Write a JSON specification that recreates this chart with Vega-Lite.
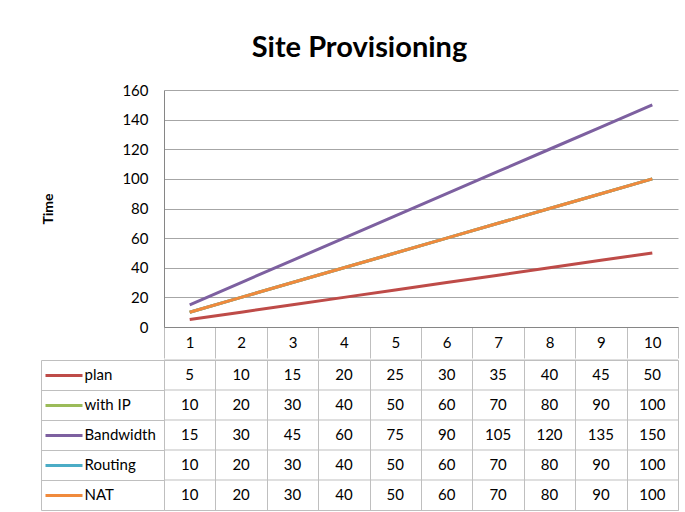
{
  "$schema": "https://vega.github.io/schema/vega-lite/v6.json",
  "padding": {"left": 40, "top": 34, "right": 5, "bottom": 0},
  "background": "white",
  "title": {"text": "Site Provisioning", "fontSize": 29, "font": "Lato", "fontWeight": "bold", "color": "#000000", "anchor": "middle", "frame": "bounds", "offset": 20},
  "config": {"view": {"stroke": null}, "font": "Lato"},
  "spacing": 0,
  "datasets": {
    "main": [
      {"series": "plan", "step": 1, "value": 5}, {"series": "plan", "step": 2, "value": 10}, {"series": "plan", "step": 3, "value": 15}, {"series": "plan", "step": 4, "value": 20}, {"series": "plan", "step": 5, "value": 25},
      {"series": "plan", "step": 6, "value": 30}, {"series": "plan", "step": 7, "value": 35}, {"series": "plan", "step": 8, "value": 40}, {"series": "plan", "step": 9, "value": 45}, {"series": "plan", "step": 10, "value": 50},
      {"series": "with IP", "step": 1, "value": 10}, {"series": "with IP", "step": 2, "value": 20}, {"series": "with IP", "step": 3, "value": 30}, {"series": "with IP", "step": 4, "value": 40}, {"series": "with IP", "step": 5, "value": 50},
      {"series": "with IP", "step": 6, "value": 60}, {"series": "with IP", "step": 7, "value": 70}, {"series": "with IP", "step": 8, "value": 80}, {"series": "with IP", "step": 9, "value": 90}, {"series": "with IP", "step": 10, "value": 100},
      {"series": "Bandwidth", "step": 1, "value": 15}, {"series": "Bandwidth", "step": 2, "value": 30}, {"series": "Bandwidth", "step": 3, "value": 45}, {"series": "Bandwidth", "step": 4, "value": 60}, {"series": "Bandwidth", "step": 5, "value": 75},
      {"series": "Bandwidth", "step": 6, "value": 90}, {"series": "Bandwidth", "step": 7, "value": 105}, {"series": "Bandwidth", "step": 8, "value": 120}, {"series": "Bandwidth", "step": 9, "value": 135}, {"series": "Bandwidth", "step": 10, "value": 150},
      {"series": "Routing", "step": 1, "value": 10}, {"series": "Routing", "step": 2, "value": 20}, {"series": "Routing", "step": 3, "value": 30}, {"series": "Routing", "step": 4, "value": 40}, {"series": "Routing", "step": 5, "value": 50},
      {"series": "Routing", "step": 6, "value": 60}, {"series": "Routing", "step": 7, "value": 70}, {"series": "Routing", "step": 8, "value": 80}, {"series": "Routing", "step": 9, "value": 90}, {"series": "Routing", "step": 10, "value": 100},
      {"series": "NAT", "step": 1, "value": 10}, {"series": "NAT", "step": 2, "value": 20}, {"series": "NAT", "step": 3, "value": 30}, {"series": "NAT", "step": 4, "value": 40}, {"series": "NAT", "step": 5, "value": 50},
      {"series": "NAT", "step": 6, "value": 60}, {"series": "NAT", "step": 7, "value": 70}, {"series": "NAT", "step": 8, "value": 80}, {"series": "NAT", "step": 9, "value": 90}, {"series": "NAT", "step": 10, "value": 100}
    ],
    "rows": [
      {"series": "plan"}, {"series": "with IP"}, {"series": "Bandwidth"}, {"series": "Routing"}, {"series": "NAT"}
    ]
  },
  "vconcat": [
    {
      "width": 514,
      "height": 237,
      "data": {"name": "main"},
      "mark": {"type": "line", "strokeWidth": 3},
      "encoding": {
        "x": {
          "field": "step", "type": "ordinal",
          "scale": {"type": "band", "paddingInner": 0, "paddingOuter": 0},
          "axis": {"title": null, "labelAngle": 0, "domainColor": "#868686", "tickColor": "#BFBFBF", "tickBand": "extent", "tickSize": 31, "labelPadding": -16, "labelBaseline": "middle", "labelFontSize": 15, "labelColor": "#000000", "grid": false}
        },
        "y": {
          "field": "value", "type": "quantitative",
          "scale": {"domain": [0, 160]},
          "axis": {"values": [0, 20, 40, 60, 80, 100, 120, 140, 160], "title": "Time", "titleFontSize": 14, "titleFontWeight": "bold", "titleColor": "#000000", "titlePadding": 66, "ticks": false, "labelPadding": 16, "labelFontSize": 15, "labelColor": "#000000", "domainColor": "#868686", "gridColor": "#A6A6A6"}
        },
        "color": {
          "field": "series", "type": "nominal",
          "scale": {"domain": ["plan", "with IP", "Bandwidth", "Routing", "NAT"], "range": ["#BE4B48", "#9BBB59", "#7D60A0", "#4BACC6", "#F08A3C"]},
          "legend": null
        }
      }
    },
    {
      "width": 514,
      "height": 150,
      "view": {"stroke": "#BFBFBF"},
      "resolve": {"axis": {"y": "independent"}},
      "layer": [
        {
          "data": {"name": "main"},
          "mark": {"type": "text", "fontSize": 15, "color": "#000000"},
          "encoding": {
            "x": {
              "field": "step", "type": "ordinal",
              "scale": {"type": "band", "paddingInner": 0, "paddingOuter": 0},
              "axis": {"title": null, "labels": false, "ticks": false, "domain": false, "grid": true, "tickBand": "extent", "gridColor": "#BFBFBF"}
            },
            "y": {
              "field": "series", "type": "nominal",
              "scale": {"domain": ["plan", "with IP", "Bandwidth", "Routing", "NAT"], "paddingInner": 0, "paddingOuter": 0},
              "axis": {
                "orient": "left", "title": null, "domain": false, "grid": false, "offset": 82, "tickSize": 37, "tickWidth": 3,
                "tickColor": {"condition": [
                  {"test": "datum.value === 'plan'", "value": "#BE4B48"},
                  {"test": "datum.value === 'with IP'", "value": "#9BBB59"},
                  {"test": "datum.value === 'Bandwidth'", "value": "#7D60A0"},
                  {"test": "datum.value === 'Routing'", "value": "#4BACC6"}
                ], "value": "#F08A3C"},
                "labelAlign": "left", "labelPadding": -39, "labelFontSize": 15, "labelColor": "#000000"
              }
            },
            "text": {"field": "value", "type": "quantitative"}
          }
        },
        {
          "data": {"name": "rows"},
          "mark": {"type": "rule", "color": "#BFBFBF"},
          "encoding": {
            "y": {
              "field": "series", "type": "nominal", "bandPosition": 0,
              "axis": {"orient": "left", "title": null, "labels": false, "grid": false, "domain": true, "domainColor": "#BFBFBF", "offset": 123, "tickBand": "extent", "tickSize": -123, "tickColor": "#BFBFBF"}
            }
          }
        }
      ]
    }
  ]
}
